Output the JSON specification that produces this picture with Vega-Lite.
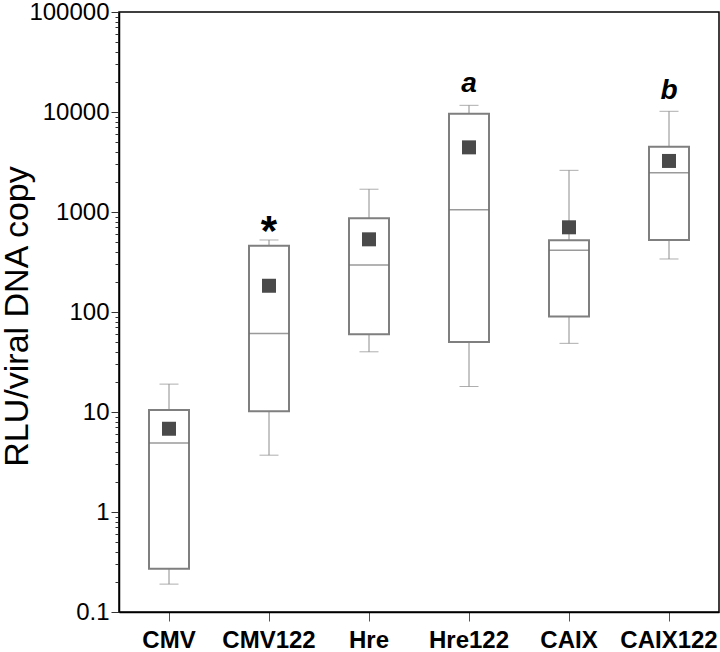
{
  "$schema": "https://vega.github.io/schema/vega-lite/v6.json",
  "autosize": "none",
  "width": 600,
  "height": 600,
  "padding": {"left": 119, "top": 12, "right": 1, "bottom": 40},
  "background": "white",
  "config": {
    "font": "Liberation Sans",
    "view": {"stroke": "black", "strokeWidth": 1.5}
  },
  "data": {
    "values": [
      {"group": "CMV", "lw": 0.19, "q1": 0.27, "med": 4.9, "q3": 10.5, "uw": 19, "mean": 6.8, "label": "", "labelY": null},
      {"group": "CMV122", "lw": 3.7, "q1": 10.2, "med": 61, "q3": 460, "uw": 525, "mean": 183, "label": "*", "labelY": 776},
      {"group": "Hre", "lw": 40, "q1": 60, "med": 295, "q3": 865, "uw": 1690, "mean": 533, "label": "", "labelY": null},
      {"group": "Hre122", "lw": 18, "q1": 50, "med": 1055, "q3": 9620, "uw": 11660, "mean": 4430, "label": "a", "labelY": 15960},
      {"group": "CAIX", "lw": 48.6, "q1": 90, "med": 414, "q3": 521, "uw": 2610, "mean": 703, "label": "", "labelY": null},
      {"group": "CAIX122", "lw": 339, "q1": 525, "med": 2470, "q3": 4500, "uw": 10160, "mean": 3240, "label": "b", "labelY": 13400}
    ]
  },
  "encoding": {
    "x": {
      "field": "group",
      "type": "nominal",
      "sort": null,
      "scale": {"type": "band", "paddingInner": 0, "paddingOuter": 0},
      "axis": {
        "title": null,
        "labelAngle": 0,
        "labelFont": "Liberation Sans",
        "labelFontSize": 24,
        "labelFontWeight": "bold",
        "labelColor": "black",
        "labelPadding": 7,
        "tickSize": 9,
        "tickColor": "#555555",
        "tickWidth": 1,
        "domainColor": "black",
        "domainWidth": 1.5
      }
    }
  },
  "layer": [
    {
      "mark": {"type": "rule", "color": "#8c8c8c", "strokeWidth": 1},
      "encoding": {
        "y": {
          "field": "lw",
          "type": "quantitative",
          "scale": {"type": "log", "domain": [0.1, 100000], "nice": false},
          "axis": {
            "title": "RLU/viral DNA copy",
            "titleFont": "Liberation Sans",
            "titleFontSize": 34,
            "titleFontWeight": "normal",
            "titleColor": "black",
            "titleAngle": -90,
            "titleBaseline": "alphabetic",
            "titleX": -92,
            "titleY": 304,
            "titleAlign": "center",
            "values": [0.1, 0.2, 0.3, 0.4, 0.5, 0.6, 0.7, 0.8, 0.9, 1, 2, 3, 4, 5, 6, 7, 8, 9, 10, 20, 30, 40, 50, 60, 70, 80, 90, 100, 200, 300, 400, 500, 600, 700, 800, 900, 1000, 2000, 3000, 4000, 5000, 6000, 7000, 8000, 9000, 10000, 20000, 30000, 40000, 50000, 60000, 70000, 80000, 90000, 100000],
            "format": "~g",
            "labelExpr": "indexof(['0.1','1','10','100','1000','10000','100000'], datum.label) >= 0 ? datum.label : ''",
            "labelFont": "Liberation Sans",
            "labelFontSize": 24,
            "labelColor": "black",
            "labelOverlap": false,
            "labelFlush": false,
            "labelPadding": 2,
            "tickSize": {"condition": {"test": "indexof([0.1, 1, 10, 100, 1000, 10000, 100000], datum.value) >= 0", "value": 8}, "value": 4},
            "tickColor": "#333333",
            "tickWidth": 1,
            "domainColor": "black",
            "domainWidth": 1.5,
            "grid": false
          }
        },
        "y2": {"field": "uw"}
      }
    },
    {
      "mark": {"type": "tick", "color": "#8c8c8c", "thickness": 1, "size": 19, "orient": "horizontal"},
      "encoding": {"y": {"field": "lw", "type": "quantitative"}}
    },
    {
      "mark": {"type": "tick", "color": "#8c8c8c", "thickness": 1, "size": 19, "orient": "horizontal"},
      "encoding": {"y": {"field": "uw", "type": "quantitative"}}
    },
    {
      "mark": {"type": "bar", "fill": "white", "stroke": "#7f7f7f", "strokeWidth": 2, "size": 40},
      "encoding": {
        "y": {"field": "q1", "type": "quantitative"},
        "y2": {"field": "q3"}
      }
    },
    {
      "mark": {"type": "tick", "color": "#6f6f6f", "thickness": 1.5, "size": 40, "orient": "horizontal"},
      "encoding": {"y": {"field": "med", "type": "quantitative"}}
    },
    {
      "mark": {"type": "point", "shape": "square", "filled": true, "color": "#4a4a4a", "opacity": 1, "size": 196},
      "encoding": {"y": {"field": "mean", "type": "quantitative"}}
    },
    {
      "transform": [{"filter": "datum.label == '*'"}],
      "mark": {"type": "text", "font": "Liberation Sans", "fontSize": 42, "fontWeight": "bold", "color": "black", "baseline": "middle", "align": "center", "dy": 9},
      "encoding": {
        "y": {"field": "labelY", "type": "quantitative"},
        "text": {"field": "label"}
      }
    },
    {
      "transform": [{"filter": "datum.label == 'a' || datum.label == 'b'"}],
      "mark": {"type": "text", "font": "Liberation Sans", "fontSize": 28, "fontWeight": "bold", "fontStyle": "italic", "color": "black", "baseline": "alphabetic", "align": "center"},
      "encoding": {
        "y": {"field": "labelY", "type": "quantitative"},
        "text": {"field": "label"}
      }
    }
  ]
}
